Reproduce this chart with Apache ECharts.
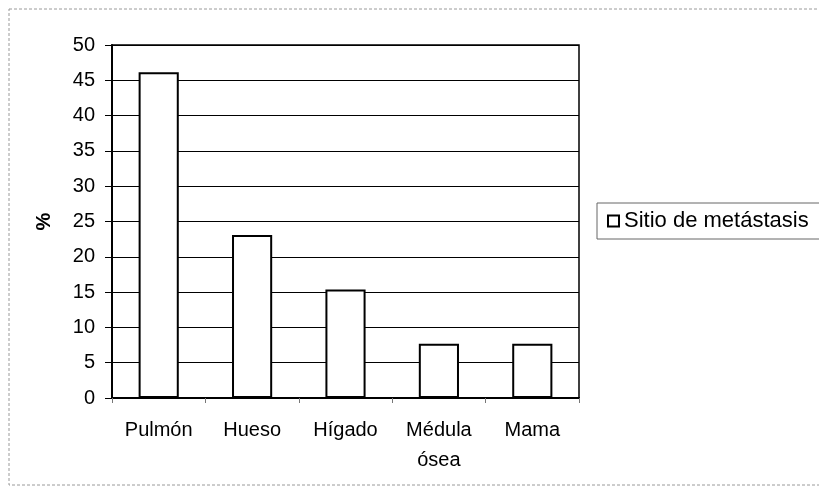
<!DOCTYPE html>
<html><head><meta charset="utf-8">
<script src="https://cdn.jsdelivr.net/npm/echarts@6/dist/echarts.min.js"></script>
<style>html,body{margin:0;padding:0;background:#fff}#c{width:819px;height:492px}</style>
</head><body><div id="c"></div>
<script>
const categories = ['Pulmón', 'Hueso', 'Hígado', 'Médula\nósea', 'Mama'];
const values = [46.15, 23.08, 15.38, 7.69, 7.69];
const seriesName = 'Sitio de metástasis';
const yTicks = { min: 0, max: 50, interval: 5 };

const chart = echarts.init(document.getElementById('c'));
const font = 'Liberation Sans, Arial, sans-serif';
chart.setOption({
  animation: false,
  backgroundColor: '#fff',
  graphic: [{
    type: 'rect', shape: { x: 9, y: 9, width: 830, height: 476 },
    style: { fill: 'none', stroke: '#9a9a9a', lineWidth: 1, lineDash: [3, 2] }, silent: true
  }],
  grid: { left: 112, top: 45, width: 467, height: 353, show: true, borderColor: '#000', borderWidth: 1.5, backgroundColor: '#fff' },
  legend: {
    show: true, left: 597, top: 203, orient: 'vertical',
    padding: [7, 30, 7, 10],
    borderColor: '#666', borderWidth: 1, backgroundColor: '#fff',
    itemWidth: 11, itemHeight: 11, itemGap: 5, icon: 'rect',
    textStyle: { fontFamily: font, fontSize: 22, color: '#000' },
    data: [{ name: seriesName, itemStyle: { color: '#fff', borderColor: '#000', borderWidth: 2 } }]
  },
  xAxis: {
    type: 'category', data: categories,
    axisLine: { lineStyle: { color: '#000', width: 2 } },
    axisTick: { show: true, length: 5, lineStyle: { color: '#777' } },
    axisLabel: { fontFamily: font, fontSize: 20, color: '#000', margin: 17, lineHeight: 30, interval: 0 }
  },
  yAxis: {
    type: 'value', min: yTicks.min, max: yTicks.max, interval: yTicks.interval,
    name: '%', nameLocation: 'middle', nameGap: 58, nameRotate: 90,
    nameTextStyle: { fontFamily: font, fontSize: 20, fontWeight: 'bold', color: '#000' },
    axisLine: { show: true, lineStyle: { color: '#000', width: 2 } },
    axisTick: { show: true, length: 7, lineStyle: { color: '#000' } },
    axisLabel: { fontFamily: font, fontSize: 20, color: '#000', margin: 17 },
    splitLine: { lineStyle: { color: '#000', width: 1 } }
  },
  series: [{
    name: seriesName, type: 'bar', data: values, barWidth: '43%',
    itemStyle: { color: '#fff', borderColor: '#000', borderWidth: 2 }
  }]
});
</script></body></html>
